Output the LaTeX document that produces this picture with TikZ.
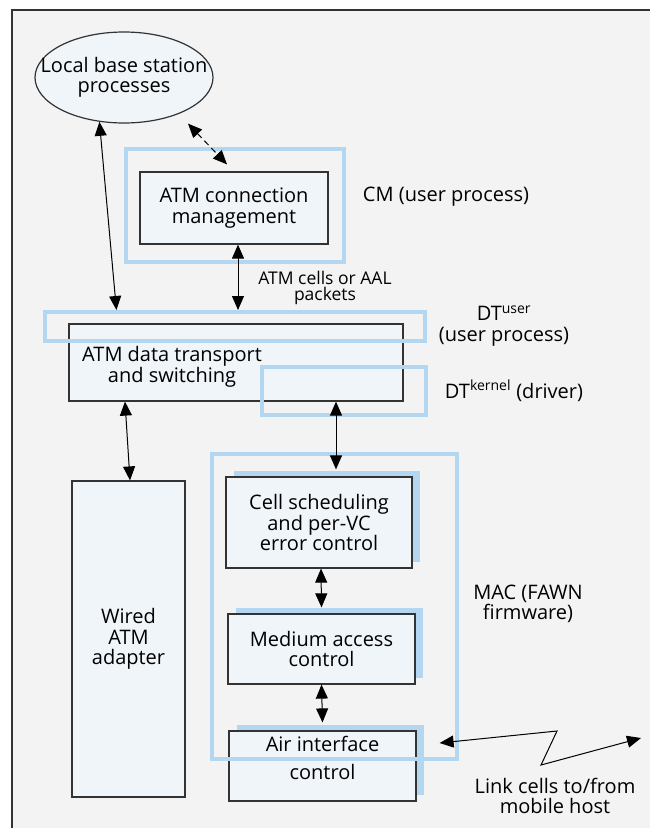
\documentclass[tikz,border=0pt]{standalone}
\usepackage{fontspec}
\setmainfont{Open Sans}
\usepackage{xcolor}
\usepackage{tikz}
\usetikzlibrary{shadows,shapes.geometric,arrows.meta}
\definecolor{paneGray}{HTML}{F3F3F3}
\definecolor{boxFill}{HTML}{F0F5FA}
\definecolor{frameBlue}{HTML}{B3D7F0}
\definecolor{lineGray}{HTML}{333333}

\tikzset{
  unit/.style={draw=lineGray, line width=1.2pt, fill=boxFill, inner sep=0pt},
  layer/.style={draw=frameBlue, line width=4pt, inner sep=0pt},
  raised/.style={drop shadow={draw=none, fill=frameBlue, opacity=1, shadow xshift=7.5pt, shadow yshift=6.5pt}},
  tag/.style={align=center, inner sep=0pt, font=\fontsize{20}{20.5}\selectfont},
  smalltag/.style={align=center, inner sep=0pt, font=\fontsize{17.5}{16}\selectfont},
  both/.style={>={Triangle[length=14pt,width=12pt]}, <->, line width=1pt},
}

\begin{document}
\begin{tikzpicture}[x=1pt, y=-1pt]
  \useasboundingbox (0,0) rectangle (650,828);
  \fill[paneGray] (12,10) rectangle (650,828);
  \draw[lineGray, line width=1.5pt] (12,828) -- (12,10) -- (650,10);

  \node[unit, ellipse, minimum width=178pt, minimum height=91pt] (lbs) at (124,77.5) {};
  \node[tag] (lbstext) at (lbs) {Local base station\\processes};
  \node[unit, tag, minimum width=188pt, minimum height=72pt] (acm) at (234,208) {ATM connection\\management};
  \node[unit, minimum width=334pt, minimum height=77pt] (dts) at (236,362.5) {};
  \node[tag] (dtstext) at (172,367) {ATM data transport\\and switching};
  \node[unit, tag, minimum width=113pt, minimum height=316pt] (wired) at (128.5,639) {Wired\\ATM\\adapter};
  \node[unit, raised, tag, minimum width=186pt, minimum height=91pt] (cell) at (319,522.5) {Cell scheduling\\and per-VC\\error control};
  \node[unit, raised, tag, minimum width=187pt, minimum height=70pt] (mac) at (321.5,649) {Medium access\\control};
  \node[unit, raised, minimum width=187pt, minimum height=70pt] (air) at (322.5,766) {};
  \node[tag] (airtext) at (322.5,758) {Air interface\\[7pt]control};

  \node[layer, minimum width=218pt, minimum height=113pt] (cmframe) at (235,205.5) {};
  \node[layer, minimum width=380pt, minimum height=29pt] (dtuser) at (235,326.5) {};
  \node[layer, minimum width=164pt, minimum height=48pt] (dtkernel) at (344,391) {};
  \node[layer, minimum width=245pt, minimum height=305pt] (macframe) at (334.5,606.5) {};

  \node[tag] (cmlabel) at (446,197) {CM (user process)};
  \node[smalltag] (cellslabel) at (325,288) {ATM cells or AAL\\packets};
  \node[tag] (dtuserlabel) at (504,326) {DT\textsuperscript{user}\\(user process)};
  \node[tag] (dtkernellabel) at (514,391) {DT\textsuperscript{kernel} (driver)};
  \node[tag] (maclabel) at (528,604) {MAC (FAWN\\firmware)};
  \node[tag] (linklabel) at (555,796) {Link cells to/from\\mobile host};

  \draw[both] (lbs.241) -- ([xshift=17pt]lbs.241 |- dtuser.north);
  \draw[both, dash pattern=on 6pt off 4pt] ([xshift=64pt]lbs.south) -- ([xshift=-7pt, yshift=7pt]acm.north);
  \draw[both] ([xshift=4pt]acm.south) -- ([xshift=4pt]acm.south |- dtuser.north);
  \draw[both] ([xshift=-111pt]dts.south) -- ([xshift=1.5pt]wired.north);
  \draw[both] ([xshift=100pt]dts.south) -- ([xshift=17pt, yshift=7pt]cell.north);
  \draw[both] ([xshift=2pt]cell.south) -- ([yshift=6pt]mac.north);
  \draw[both] (mac.south) -- ([yshift=8pt]air.north);
  \coordinate (mobile) at (641,738);
  \draw[both] ([shift={(23pt,23pt)}]air.east) -- (557,731) -- (541,765) -- (mobile);
\end{tikzpicture}
\end{document}
